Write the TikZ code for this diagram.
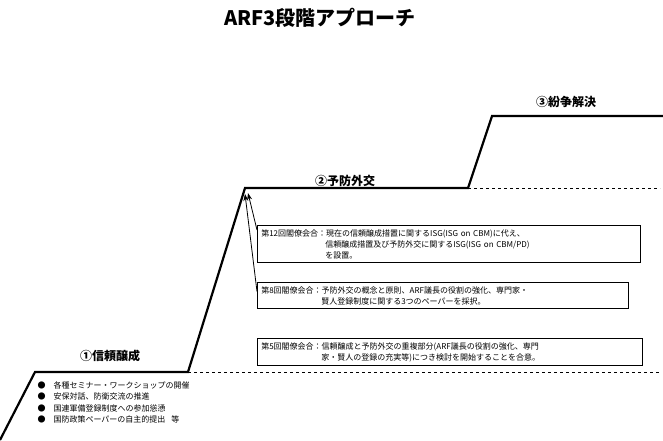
\documentclass[tikz,border=0pt]{standalone}
\usepackage{fontspec}
\setmainfont{Noto Sans CJK JP}
\usetikzlibrary{arrows.meta,calc}
\begin{document}
\begin{tikzpicture}[x=1pt,y=-1pt,
  stair/.style={line width=2.2pt},
  guide/.style={dashed,line width=0.6pt},
  infobox/.style={draw,line width=0.6pt,anchor=north west,align=left,font=\fontsize{8}{11}\selectfont,inner sep=4pt},
  stagelabel/.style={font=\bfseries\fontsize{12}{14}\selectfont},
  pointer/.style={line width=0.8pt,-{Stealth[length=7pt,width=5pt]}}]
\useasboundingbox (0,0) rectangle (663,440);
\node[font=\bfseries\fontsize{20}{24}\selectfont] (title) at (320,18) {ARF3段階アプローチ};
\coordinate (s0) at (0,440);
\coordinate (s1) at (35,372);
\coordinate (s2) at (188,372);
\coordinate (s3) at (245,188);
\coordinate (s4) at (468,188);
\coordinate (s5) at (492,116);
\coordinate (s6) at (663,116);
\coordinate (d1) at (660,372);
\coordinate (d2) at (660,188);
\draw[stair] (s0) -- (s1) -- (s2) -- (s3) -- (s4) -- (s5) -- (s6);
\draw[guide] (s2) -- (d1);
\draw[guide] (s4) -- (d2);
\node[stagelabel] (l1) at (110,356) {①信頼醸成};
\node[stagelabel] (l2) at (345,181) {②予防外交};
\node[stagelabel] (l3) at (566,102) {③紛争解決};
\node[infobox,text width=375pt] (b1) at (257,225) {第12回閣僚会合：現在の信頼醸成措置に関するISG(ISG on CBM)に代え、\\\hspace*{64pt}信頼醸成措置及び予防外交に関するISG(ISG on CBM/PD)\\\hspace*{64pt}を設置。};
\node[infobox,text width=363pt] (b2) at (257,282) {第8回閣僚会合：予防外交の概念と原則、ARF議長の役割の強化、専門家・\\\hspace*{60pt}賢人登録制度に関する3つのペーパーを採択。};
\node[infobox,text width=377pt] (b3) at (257,338) {第5回閣僚会合：信頼醸成と予防外交の重複部分(ARF議長の役割の強化、専門\\\hspace*{60pt}家・賢人の登録の充実等)につき検討を開始することを合意。};
\draw[pointer] ($(b1.north west)+(0,5)$) -- ($(s3)+(3,5)$);
\draw[pointer] ([yshift=4pt]b2.west) -- ($(s3)+(0,6)$);
\node[anchor=north west,align=left,font=\fontsize{8}{11.5}\selectfont] (list) at (34,378)
 {●\hspace{8pt}各種セミナー・ワークショップの開催\\●\hspace{8pt}安保対話、防衛交流の推進\\●\hspace{8pt}国連軍備登録制度への参加慫慂\\●\hspace{8pt}国防政策ペーパーの自主的提出\hspace{6pt}等};
\end{tikzpicture}
\end{document}
